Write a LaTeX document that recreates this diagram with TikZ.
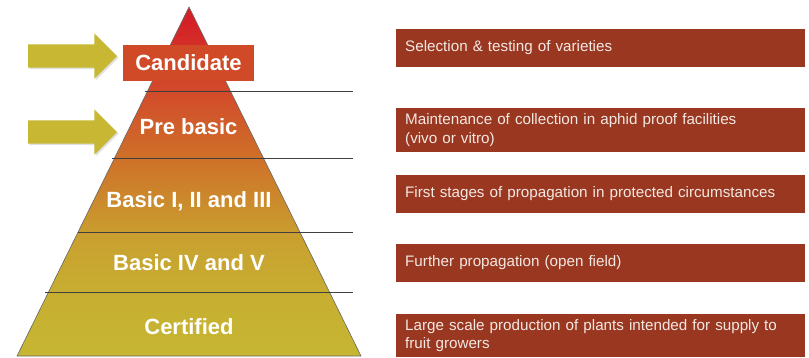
\documentclass[tikz,border=0pt]{standalone}
\usepackage{fontspec}
\setmainfont{Liberation Sans}
\usetikzlibrary{calc, positioning, shapes.arrows, shadows}
\definecolor{xbot}{HTML}{C6B632}
\definecolor{xlow}{HTML}{C7AE31}
\definecolor{xmid}{HTML}{C9A02F}
\definecolor{xorange}{HTML}{CE7229}
\definecolor{xupper}{HTML}{D24E2A}
\definecolor{xtop}{HTML}{D42027}
\definecolor{xcand}{HTML}{D04A28}
\definecolor{xbrown}{HTML}{993721}
\definecolor{xpale}{HTML}{F3E8E2}
\definecolor{xolive}{HTML}{C7B733}
\pgfdeclareverticalshading{pyramidfade}{100bp}{color(0bp)=(xbot); color(25bp)=(xbot); color(34bp)=(xlow); color(42bp)=(xmid); color(53bp)=(xorange); color(62bp)=(xupper); color(73bp)=(xtop); color(100bp)=(xtop)}
\tikzset{
	level/.style = {text=white, font=\fontsize{22}{26}\selectfont\bfseries, inner sep=0pt},
	note/.style = {#1, anchor=west, fill=xbrown, text=xpale, minimum width=409pt, text width=391pt,
		inner xsep=9pt, inner ysep=0pt, align=left, font=\fontsize{15.2}{18.5}\selectfont},
	pointer/.style = {shape=single arrow, fill=xolive, minimum height=89pt, minimum width=45pt,
		single arrow head extend=11pt, inner xsep=0pt, inner ysep=11.5pt, anchor=tip, outer sep=0pt,
		drop shadow={opacity=0.25, shadow xshift=1.5pt, shadow yshift=-1.5pt}},
	split/.style = {draw=black!75, line width=0.8pt},
}

\begin{document}
\begin{tikzpicture}[x=1pt, y=-1pt]
			\useasboundingbox (0,0) rectangle (809,357);
			\coordinate (apex) at (189,7);
			\coordinate (bl) at (17,356);
			\coordinate (br) at (361,356);
			\shade[shading=pyramidfade, draw=black!60, line width=0.6pt] (apex) -- (br) -- (bl) -- cycle;
			% level borders
			\draw[split] (145,91) -- (353,91);
			\draw[split] (112,158) -- (353,158);
			\draw[split] (78,232) -- (353,232);
			\draw[split] (45,292) -- (353,292);
			% levels
			\node[level, fill=xcand, minimum width=131pt, minimum height=36pt] (cand) at (188.5,63) {Candidate};
			\node[level] (prebasic) at (188.5,127) {Pre basic};
			\node[level] (basicA) at (189,201) {Basic I, II and III};
			\node[level] (basicB) at (189,263) {Basic IV and V};
			\node[level] (cert) at (189,327) {Certified};
			% arrows
			\node[pointer] (arrcand) at (117,56) {};
			\node[pointer] (arrpre) at (117,132) {};
			% descriptions
			\node[note={minimum height=38pt}] (dsel) at (396,48) {Selection \& testing of varieties};
			\node[note={minimum height=44pt}] (dmaint) at (396,130) {Maintenance of collection in aphid proof facilities\\(vivo or vitro)};
			\node[note={minimum height=38pt}] (dfirst) at (396,194) {First stages of propagation in protected circumstances};
			\node[note={minimum height=38pt}] (dfurther) at (396,263) {Further propagation (open field)};
			\node[note={minimum height=43pt}] (dlarge) at (396,335.5) {Large scale production of plants intended for supply to fruit growers};
		\end{tikzpicture}
\end{document}
